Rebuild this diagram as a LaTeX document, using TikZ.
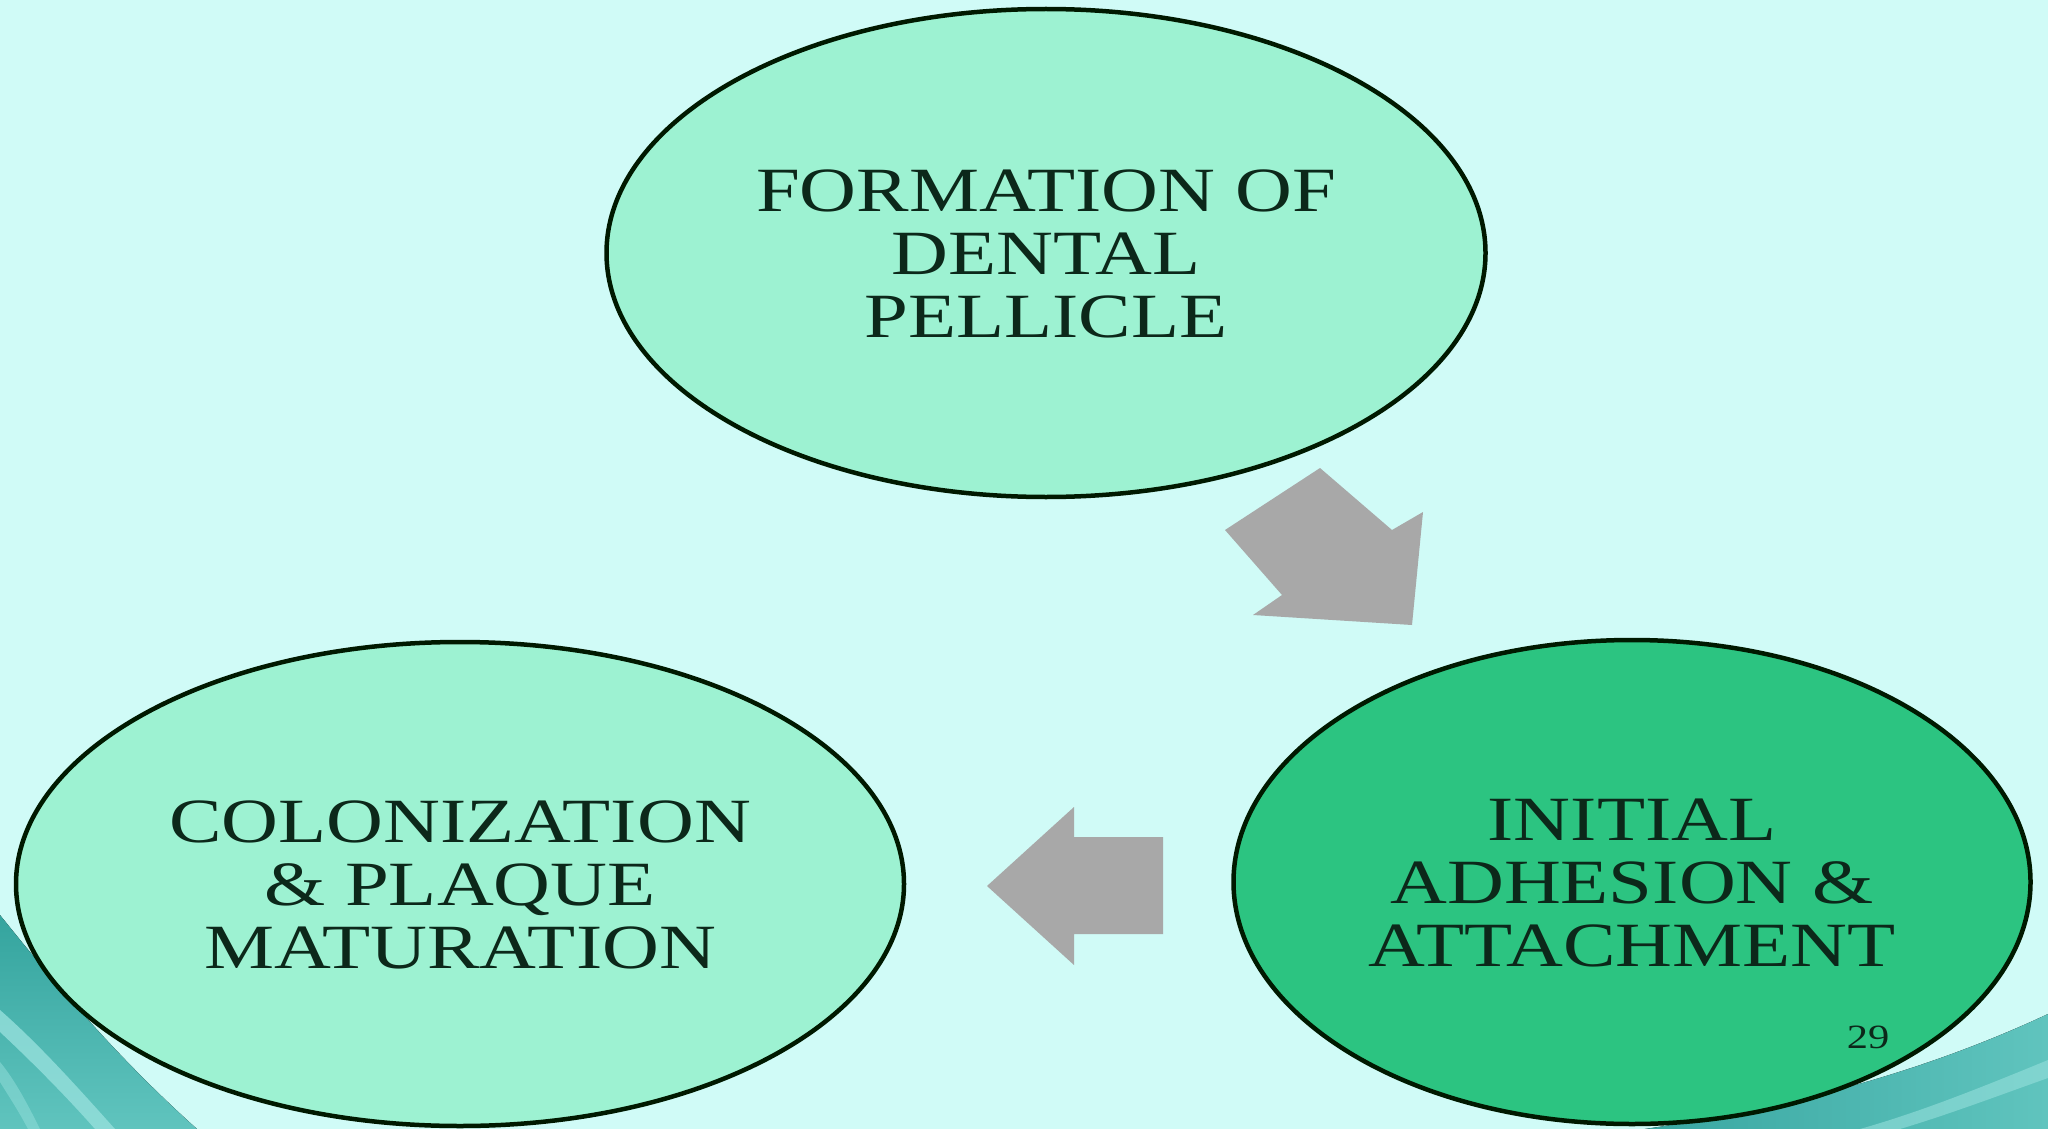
\documentclass[tikz,border=0pt]{standalone}
\usepackage{fontspec}
\setmainfont{Liberation Serif}
\usepackage{graphicx}
\usetikzlibrary{shapes.geometric}
\definecolor{bgcol}{RGB}{208,251,247}
\definecolor{ellite}{RGB}{157,242,210}
\definecolor{elldark}{RGB}{44,196,129}
\definecolor{txtcol}{RGB}{12,40,26}
\definecolor{arrgray}{RGB}{168,168,168}
\definecolor{tealA}{RGB}{52,164,158}
\definecolor{tealB}{RGB}{96,196,190}
\definecolor{tealL}{RGB}{150,224,220}
\newcommand{\stretchtext}[1]{\raisebox{-9pt}[\height][\depth]{\scalebox{1.25}[1]{\begin{tabular}{@{}c@{}}#1\end{tabular}}}}
\tikzset{
  stage/.style={ellipse, draw=black!90!green, line width=4.5pt, inner sep=0pt,
    text=txtcol, font=\fontsize{63}{63}\selectfont},
  blockarrow/.style={fill=arrgray, draw=none},
}
\begin{document}
\begin{tikzpicture}[x=1pt,y=-1pt]
\useasboundingbox (0,0) rectangle (2048,1129);
\fill[bgcol] (0,0) rectangle (2048,1129);
% corner swooshes
\fill[top color=tealA, bottom color=tealB] (0,915) .. controls (60,990) and (120,1060) .. (197,1129) -- (0,1129) -- cycle;
\fill[tealL, opacity=0.8] (0,1010) .. controls (40,1045) and (80,1090) .. (115,1129) -- (95,1129) .. controls (65,1095) and (30,1060) .. (0,1032) -- cycle;
\fill[tealL, opacity=0.5] (0,1062) .. controls (15,1080) and (28,1105) .. (40,1129) -- (28,1129) .. controls (18,1110) and (8,1095) .. (0,1082) -- cycle;
\fill[left color=tealA, right color=tealB] (2048,1014) .. controls (1960,1055) and (1820,1108) .. (1600,1135) -- (2048,1135) -- cycle;
\fill[tealL, opacity=0.6] (2048,1060) .. controls (1980,1088) and (1920,1112) .. (1860,1129) -- (1900,1129) .. controls (1950,1114) and (2000,1095) .. (2048,1078) -- cycle;
% stages
\node[stage, fill=ellite, minimum width=879pt, minimum height=488pt] (pellicle) at (1046,253)
  {\stretchtext{FORMATION OF\\DENTAL\\PELLICLE}};
\node[stage, fill=elldark, minimum width=797pt, minimum height=484pt] (adhesion) at (1632,882)
  {\stretchtext{INITIAL\\ADHESION \&\\ATTACHMENT}};
\node[stage, fill=ellite, minimum width=888pt, minimum height=484pt] (colonization) at (460,884)
  {\stretchtext{COLONIZATION\\\& PLAQUE\\MATURATION}};
% block arrows
\fill[blockarrow] (1320,468) -- (1392,530) -- (1423,512) -- (1412,625) -- (1253,615) -- (1282,595) -- (1225,530) -- cycle;
\fill[blockarrow] (987,886) -- (1074,807) -- (1074,837) -- (1163,837) -- (1163,934) -- (1074,934) -- (1074,965) -- cycle;
% page number
\node[text=txtcol, font=\fontsize{34}{40}\selectfont, inner sep=0pt] (pagenum) at (1868,1037) {\scalebox{1.25}[1]{29}};
\end{tikzpicture}
\end{document}
